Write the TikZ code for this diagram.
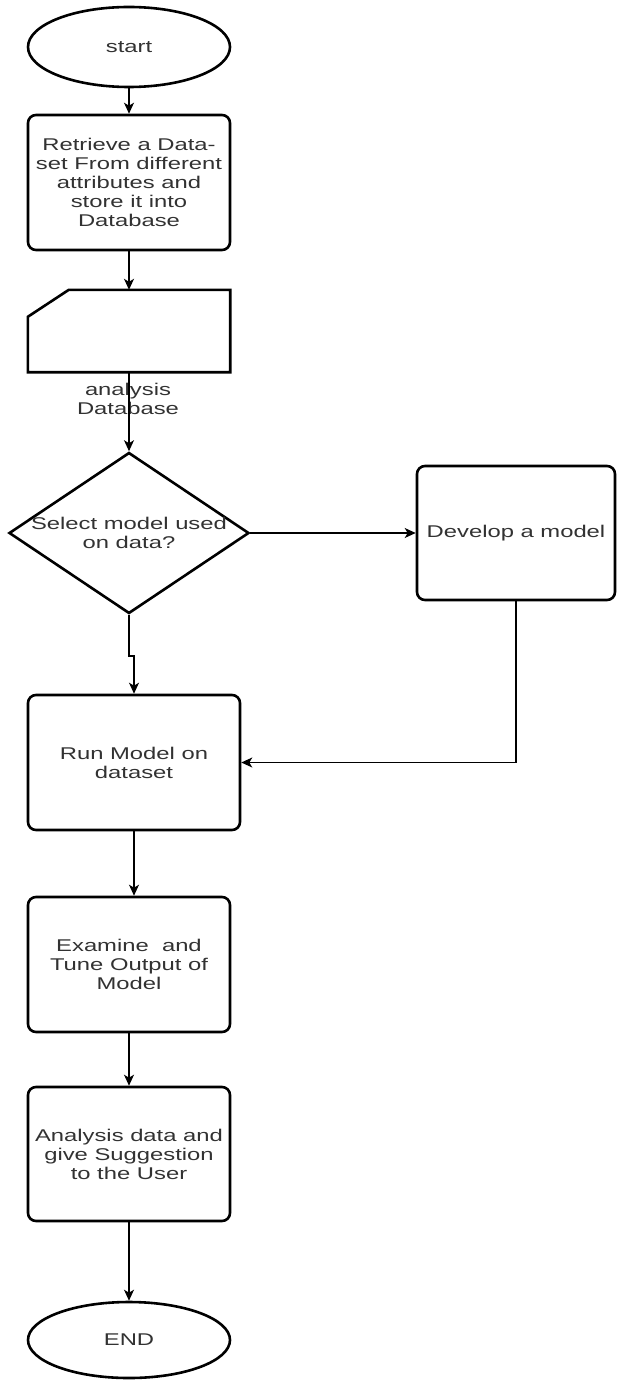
\documentclass[tikz,border=0pt]{standalone}
\usepackage{fontspec}
\setmainfont{Liberation Sans}[FakeStretch=1.4]
\usetikzlibrary{shapes.geometric,arrows.meta}
\definecolor{txt}{RGB}{50,50,50}
\begin{document}
\begin{tikzpicture}[x=1pt,y=-1pt,
  every node/.style={font=\fontsize{17}{19}\selectfont, text=txt, align=center, inner sep=0pt},
  procbox/.style={draw=black, line width=2.6pt, rounded corners=8pt, minimum width=202pt, minimum height=135pt},
  term/.style={draw=black, ellipse, line width=2.6pt, minimum width=202pt, minimum height=80pt},
  decide/.style={draw=black, diamond, line width=2.6pt, minimum width=240pt, minimum height=161pt},
  conn/.style={draw=black, line width=1.4pt, -{Stealth[length=11pt,width=10pt,inset=3pt]}}]
\useasboundingbox (0,0) rectangle (617,1380);

\node[term] (start) at (129,47) {start};
\node[procbox] (retrieve) at (129,182.5) {Retrieve a Data-\\set From different\\attributes and\\store it into\\Database};
\node[minimum width=202pt, minimum height=82pt] (db) at (129,331) {};
\draw[line width=2.6pt] ([yshift=-27pt]db.north west) -- ([xshift=41pt]db.north west) -- (db.north east) -- (db.south east) -- (db.south west) -- cycle;
\node (dblabel) at (128,399) {analysis\\Database};
\node[decide, label={center:{Select model used\\on data?}}] (decision) at (129,533) {};
\node[procbox, minimum width=198pt, minimum height=134pt] (develop) at (516,533) {Develop a model};
\node[procbox, minimum width=212pt] (run) at (134,762.5) {Run Model on\\dataset};
\node[procbox] (examine) at (129,964.5) {Examine\ \ and\\Tune Output of\\Model};
\node[procbox, minimum height=134pt] (analysis) at (129,1154) {Analysis data and\\give Suggestion\\to the User};
\node[term, minimum height=76pt] (end) at (129,1340) {END};

\draw[conn] (start) -- (retrieve);
\draw[conn] (retrieve) -- (db.north);
\draw[conn] (db.south) -- (decision.north);
\draw[conn] (decision.east) -- (develop.west);
\draw[conn] (decision.south) -- ++(0,41) -| (run.north);
\draw[conn] (develop.south) |- (run.east);
\draw[conn] (run.south) -- (run.south |- examine.north);
\draw[conn] (examine.south) -- (analysis.north);
\draw[conn] (analysis.south) -- (end.north);
\end{tikzpicture}
\end{document}
